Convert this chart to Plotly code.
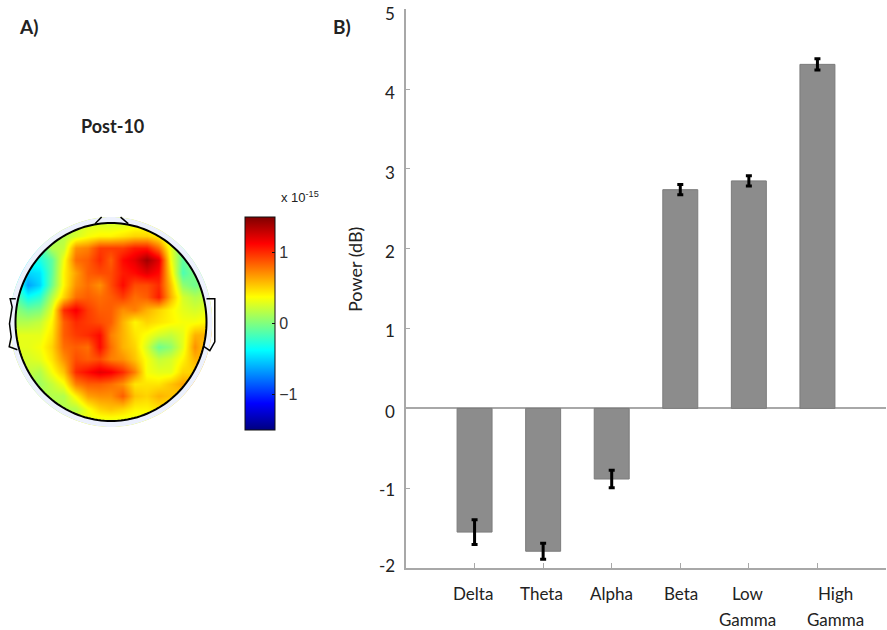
import numpy as np
import plotly.graph_objects as go

W, H = 887, 630

# Panel B data
categories = ["Delta", "Theta", "Alpha", "Beta", "Low Gamma", "High Gamma"]
power_db = [-1.55, -1.79, -0.885, 2.74, 2.85, 4.31]
power_err = [0.155, 0.10, 0.11, 0.065, 0.065, 0.07]
label_line1 = ["Delta", "Theta", "Alpha", "Beta", "Low", "High"]
label_line2 = ["", "", "", "", "Gamma", "Gamma"]
label_shift = [-2, -2, 0, 1, -1, 18]
y_ticks = [-2, -1, 0, 1, 2, 3, 4, 5]
y_tick_text = ["-2", "-1", "0", "1", "2", "3", "4", "5"]
y_label_shift = [3, -1, -3, -2, -3, -4, -3, -4]

# Panel A data: scalp map read on a regular grid, top row first
map_x = [k / 8 for k in range(-8, 9)]
map_y = [k / 8 for k in range(8, -9, -1)]
scalp = [
    [.2, .2, .2, .2, .2, .2, .25, .25, .25, .25, .3, .3, .3, .3, .2, .2, .2],
    [.1, .1, .1, .1, .15, .25, .35, .4, .4, .45, .5, .5, .4, .2, .1, .1, .1],
    [-.2, -.2, -.2, .15, .2, .7, .75, .95, .95, .95, 1.05, 1.05, .8, .3, -.05, -.05, -.05],
    [-.3, -.3, -.3, -.1, .35, .8, .85, 1.0, .85, 1.1, 1.2, 1.4, 1.2, .35, -.1, .1, .1],
    [-.4, -.5, -.45, -.1, .4, .65, .85, .9, .9, 1.05, 1.1, 1.2, 1.1, .45, -.15, 0, 0],
    [-.1, -.65, -.5, -.05, .4, .7, .8, .7, .9, 1.1, .9, .9, 1.0, .55, .05, -.05, .1],
    [-.1, -.35, -.25, .15, .5, .8, .85, .8, .85, .95, .8, .85, 1.05, .6, .25, .15, .2],
    [.05, -.05, 0, .3, 1.0, 1.15, .95, .85, .85, .7, .75, .6, .5, .4, .3, .25, .3],
    [.15, .15, .2, .4, .85, 1.0, .95, .9, .85, .6, .4, .5, .45, .4, .35, .35, .4],
    [.3, .3, .3, .45, .85, .95, 1.0, 1.1, .75, .6, .45, .35, .25, .2, .3, .6, .6],
    [.3, .3, .35, .5, .8, .85, .8, 1.1, .8, .6, .5, .25, -.05, .05, .3, .7, .5],
    [.25, .25, .3, .45, .7, .9, .85, .9, .75, .7, .55, .35, .2, .25, .4, .6, .6],
    [.2, .2, .15, .35, .55, 1.0, 1.1, 1.2, 1.15, 1.0, .75, .35, .3, .3, .5, .5, .5],
    [.1, .1, .1, .2, .35, .75, .85, .85, .8, .7, .45, .45, .45, .55, .65, .6, .6],
    [.15, .15, .15, .15, .15, .4, .65, .7, .7, .85, .55, .5, .6, .55, .5, .5, .5],
    [.15, .15, .15, .15, .15, .15, .35, .5, .55, .5, .4, .4, .45, .4, .4, .4, .4],
    [.3, .3, .3, .3, .3, .3, .3, .3, .3, .3, .3, .3, .3, .3, .3, .3, .3],
]

# Head decoration, in head-radius units
left_ear = [(-.997, .236), (-1.056, .236), (-1.035, .15), (-1.063, -.017), (-1.045, -.15), (-1.066, -.25), (-.98, -.28)]
right_ear = [(1.0, .236), (1.087, .236), (1.087, -.2), (1.035, -.29), (.97, -.246)]
nose_left = [(-.167, .993), (-.098, 1.06)]
nose_right = [(.18, .993), (.1, 1.06)]

jet = [[0, "#00007F"], [.125, "#0000FF"], [.375, "#00FFFF"], [.625, "#FFFF00"], [.875, "#FF0000"], [1, "#7F0000"]]


def ring(r):
    t = np.linspace(0, 2 * np.pi, 181)[:-1]
    pts = [f"{r * np.cos(a):.4f},{r * np.sin(a):.4f}" for a in t]
    return "M" + " L".join(pts) + " Z"


def poly(points):
    return "M" + " L".join(f"{x},{y}" for x, y in points)


GRAY = "#a8a8a8"
TEXT = "#222222"
fig = go.Figure()

fig.add_trace(go.Heatmap(
    x=map_x, y=map_y, z=scalp, xaxis="x2", yaxis="y2",
    colorscale=jet, zmin=-1.5, zmax=1.5, zsmooth="best", hoverinfo="skip",
    colorbar=dict(
        x=245 / W, xanchor="left", xpad=0, ypad=0,
        y=1 - 323.5 / H, yanchor="middle",
        thickness=30, thicknessmode="pixels", len=213, lenmode="pixels",
        outlinecolor="#111111", outlinewidth=1,
        ticks="inside", ticklen=3, tickcolor="#111111",
        tickvals=[-1, 0, 1], ticktext=["−1", "0", "1"],
        tickfont=dict(family="Liberation Sans", size=16, color="#333333"),
    ),
))

fig.add_trace(go.Bar(
    x=list(range(len(categories))), y=power_db, width=0.51,
    marker=dict(color="#8c8c8c", line=dict(color="#7c7c7c", width=1)),
    error_y=dict(type="data", array=power_err, color="#000000", thickness=3, width=3),
    hovertext=categories, hoverinfo="text+y",
))

shapes = [
    dict(type="path", xref="x2", yref="y2", layer="above", line_width=0, fillcolor="#ffffff",
         path="M-1.5,-1.5 L1.5,-1.5 L1.5,1.5 L-1.5,1.5 Z " + ring(1.06)),
    dict(type="path", xref="x2", yref="y2", layer="above", line_width=0, fillcolor="#edf1fd",
         path=ring(1.06) + " " + ring(1.0)),
    dict(type="path", xref="x2", yref="y2", layer="above", line=dict(color="#000000", width=2),
         path=ring(1.0)),
]
for part in (left_ear, right_ear, nose_left, nose_right):
    shapes.append(dict(type="path", xref="x2", yref="y2", layer="above",
                       line=dict(color="#000000", width=1.5), path=poly(part)))

annotations = []
for i, (a, b, s) in enumerate(zip(label_line1, label_line2, label_shift)):
    for txt, py in ((a, 593), (b, 619)):
        if txt:
            annotations.append(dict(
                text=txt, x=i, xref="x", y=1 - py / H, yref="paper", xshift=s,
                showarrow=False, xanchor="center", yanchor="middle",
                font=dict(family="Lato", size=17, color=TEXT)))

for v, txt, s in zip(y_ticks, y_tick_text, y_label_shift):
    annotations.append(dict(
        text=txt, x=397 / W, xref="paper", y=v, yref="y", yshift=s,
        showarrow=False, xanchor="right", yanchor="middle",
        font=dict(family="Lato", size=17, color=TEXT)))


def note(text, px, py, size, bold=False, family="Lato", angle=0):
    annotations.append(dict(
        text=f"<b>{text}</b>" if bold else text, x=px / W, xref="paper", y=1 - py / H, yref="paper",
        showarrow=False, xanchor="center", yanchor="middle", textangle=angle,
        font=dict(family=family, size=size, color=TEXT)))


note("A)", 28, 27, 19, True)
note("B)", 342, 27, 19, True)
note("Post-10", 112, 126, 18, True)
note("Power (dB)", 355, 270, 18, angle=-90)
note("x 10<sup>-15</sup>", 300, 197, 13, family="Liberation Sans")

fig.update_layout(
    width=W, height=H, autosize=False, margin=dict(l=0, r=0, t=0, b=0, autoexpand=False),
    paper_bgcolor="#ffffff", plot_bgcolor="#ffffff", showlegend=False, bargap=0.49,
    shapes=shapes, annotations=annotations,
    xaxis=dict(domain=[406 / W, 886 / W], range=[-1.0, 6.0], showgrid=False, zeroline=False,
               tickvals=list(range(len(categories))), showticklabels=False,
               ticks="inside", ticklen=5, tickcolor=GRAY, showline=True, linecolor=GRAY, linewidth=1.5,
               anchor="y"),
    yaxis=dict(domain=[1 - 568 / H, 1 - 9.3 / H], range=[-2, 5], showgrid=False,
               tickvals=y_ticks, showticklabels=False, ticks="inside", ticklen=4, tickcolor=GRAY,
               showline=True, linecolor=GRAY, linewidth=1.5,
               zeroline=True, zerolinecolor=GRAY, zerolinewidth=1.5, anchor="x"),
    xaxis2=dict(domain=[0, 230 / W], range=[-111 / 95.5, 119 / 95.5], visible=False, anchor="y2"),
    yaxis2=dict(domain=[1 - 440 / H, 1 - 205 / H], range=[-118 / 99, 117 / 99], visible=False, anchor="x2"),
)

fig.write_html("out.html", config={"displayModeBar": False},
               post_script="document.body.style.margin='0';")
